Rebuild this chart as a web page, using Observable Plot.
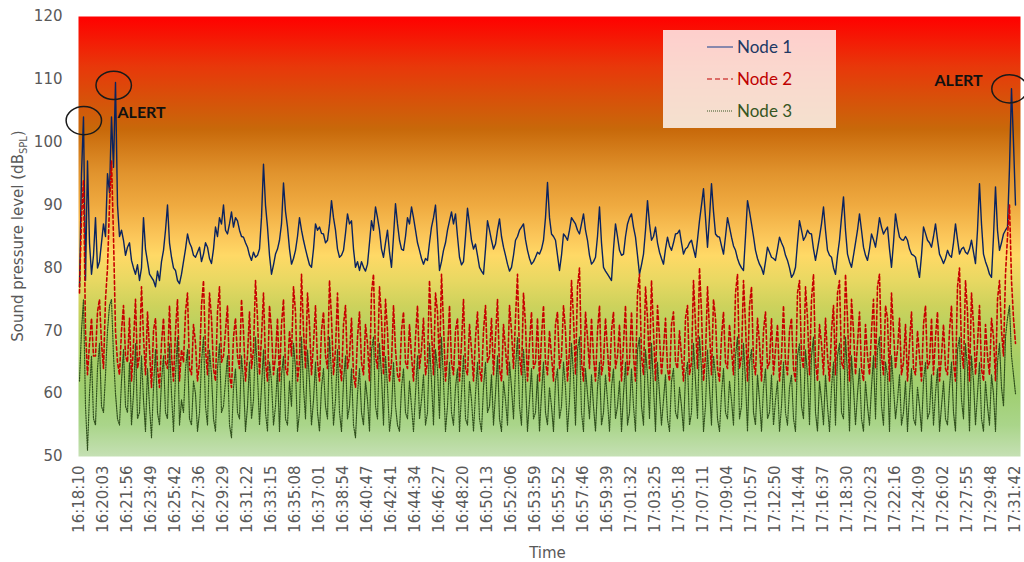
<!DOCTYPE html>
<html>
<head>
<meta charset="utf-8">
<script src="https://cdn.jsdelivr.net/npm/d3@7"></script>
<script src="https://cdn.jsdelivr.net/npm/@observablehq/plot@0.6"></script>
<style>
  html, body { margin: 0; padding: 0; background: #ffffff; }
  #chart { width: 1024px; height: 562px; position: relative; }
</style>
</head>
<body>
<div id="chart"></div>
<script>
// ---------- DATA ----------
const tickLabels = [
  "16:18:10","16:20:03","16:21:56","16:23:49","16:25:42","16:27:36","16:29:29","16:31:22",
  "16:33:15","16:35:08","16:37:01","16:38:54","16:40:47","16:42:41","16:44:34","16:46:27",
  "16:48:20","16:50:13","16:52:06","16:53:59","16:55:52","16:57:46","16:59:39","17:01:32",
  "17:03:25","17:05:18","17:07:11","17:09:04","17:10:57","17:12:50","17:14:44","17:16:37",
  "17:18:30","17:20:23","17:22:16","17:24:09","17:26:02","17:27:55","17:29:48","17:31:42"
];
const intervalsPerTick = 6;   // tick labels every 6 axis units

const seriesNames = ["Node 1", "Node 2", "Node 3"];

const node1 = [
  77,95,104,78,97,84,79,82,88,80,81,84,87,85,95,92,104,96,109.5,90,
  85,86,84.4,82,83.3,84,81.2,80,79,80.5,78,80,88,83,81,79,78.5,78,77,79.5,
  78,81,82.8,86,90,84,81.7,80,79.6,78,77.5,79,81,83,85.4,84,83.3,82,81.7,82.5,
  83.3,81,82.2,84,83.3,81.5,80.7,83,86.5,85,88,87,90,86,85.4,87,88.9,86.5,88,87.5,
  86,85,84.9,84,83.3,82,81.2,82.5,81.7,82,83,88,96.5,90,86.5,82,79,80.5,82.2,83,
  84.4,87,93.5,89,86.5,83,80.6,81.5,82.8,85,88,86,84.4,83,81.7,80.5,80.1,83,87,86,
  86.5,85.5,85.4,84,84.4,87,90.7,88,86,83,81.7,82,82.8,85.5,88.6,87,87.5,83,80.1,81,
  79.6,81,80.1,79.5,80.6,84,87.5,86,89.7,88,86,83,81.7,84,86,82.5,80.1,85,90.2,87,
  84.4,83,82.8,85,88,87,89.7,88,86,84,82.8,81.5,80.6,81.5,81.2,84,86.5,88,90,85,
  79.6,81,82.8,84,86,87.5,88.9,87,88.6,85,81.7,80.5,81,85,89.5,87,84.4,83,83.8,82,
  80.1,79.5,79,83,87.5,86,84.4,83,83.8,86,87.8,85,83.3,82,80.6,79.5,80.1,82,84.4,85,
  86,86.5,87,84.5,82.8,81.5,80.6,81,81.7,82.5,82.2,83,84.4,88,93.6,88,85.4,85,84.4,82,
  79.6,82,85.4,85,84.4,86,88,87.5,87,86,85.4,87,88.6,86,84.4,82,80.6,81,81.7,85,
  89.7,84,80.1,79.5,79,78.5,78,83,87,85,82.8,82,82.2,85,87,88,88.6,86.5,84.9,82,
  79,80.5,82.2,86,90.7,87,84.4,85,86.5,84,82.5,81.5,80.6,83,84.9,83.5,82.8,84,85.4,85.5,
  86,84,82.2,83,83.3,84,84.4,83,81.7,84.5,87.5,90,92.6,88,83.3,88,93.4,89,85.4,85,
  84.9,83.5,82.2,85,88,86.5,84.9,83.5,82.8,81.5,80.6,80,79.6,85,90.7,89,87,85,82.8,81.5,
  80.6,80,79,81,83.3,82.5,81.7,81.5,81.2,83,84.9,84,83.3,82,81.2,80,78.5,79,80.1,84,
  87.5,86,84.4,85,86,85.5,85.4,83,81.2,83,84.9,87,89.7,86,82.8,82,81.7,80,79,82,
  84.4,88,91.3,86,82.2,81,80.1,82,84,86,88.6,86,83.3,82,81.2,83,85.4,84.5,83.3,85.5,
  88,86.5,85.4,86,86.5,83,80.1,84,88.6,86.5,84.9,84.5,84.4,85,84.4,83,82.2,82,81.7,80,
  78.5,82,86.5,85.5,84.4,84,83.3,85,87,84.5,82.2,81.5,80.7,81.5,82.8,82,81.7,84,87,84.5,
  82.2,83,83.3,82.5,82.2,83,84.4,82.5,80.7,86,93.4,87,82.2,81,80.1,79,78.5,85,92.9,86,
  82.8,84,85.4,86,86.5,96,108.5,100,90
];

const node2 = [
  76,88,94,70,63,68,72,66,66,73,75,68,64,75,80,90,97,85,70,65,
  63,70,74,66,65,72,62,68,75,64,66,77,69,63,73,67,61,70,72,64,
  61,68,72,65,64,74,66,62,70,75,62,67,65,73,76,64,63,71,68,62,
  65,74,78,67,63,76,72,64,62,73,77,65,66,70,74,63,61,69,72,66,
  64,75,70,62,66,73,64,67,78,72,63,69,76,65,62,74,70,63,66,72,
  62,71,75,64,63,70,66,77,73,62,65,79,70,64,76,71,63,68,74,65,
  62,70,73,66,64,78,72,63,67,76,65,62,71,74,64,66,72,63,61,69,
  73,65,63,71,68,62,76,79,66,64,77,72,63,75,70,62,65,74,67,63,
  62,70,73,65,64,71,66,62,69,74,64,67,72,63,65,78,70,63,76,73,
  64,79,71,62,66,74,65,63,70,72,62,68,75,64,63,71,67,62,69,73,
  64,62,70,74,65,66,72,63,69,75,64,62,71,67,63,74,70,64,72,79,
  66,63,76,71,62,68,73,64,65,72,62,69,74,65,63,70,66,62,71,73,
  64,66,74,70,62,67,78,72,63,77,80,65,62,73,69,64,72,66,62,70,
  74,63,65,72,67,62,70,73,64,66,71,62,68,74,63,65,73,66,62,76,
  79,66,63,77,72,64,78,70,62,74,69,63,67,72,64,62,71,73,65,64,
  70,66,62,72,74,63,65,78,71,64,80,73,62,66,77,70,63,75,72,64,
  62,69,73,65,64,71,67,63,76,79,64,66,78,71,62,74,77,65,63,72,
  68,62,70,73,64,65,72,63,67,71,62,66,74,65,63,70,72,64,62,76,
  78,66,64,77,72,63,75,79,65,62,71,68,63,72,66,62,70,74,63,76,
  78,65,64,79,72,62,75,70,63,68,73,64,62,71,66,63,70,75,64,77,
  79,66,63,74,72,62,76,70,64,67,72,63,65,71,62,68,73,64,63,70,
  66,62,71,74,64,65,72,63,69,73,62,66,71,64,63,70,74,65,62,77,
  80,67,64,78,73,62,76,71,63,68,74,64,62,71,66,63,72,69,62,75,
  78,70,66,79,85,90,78,72,68
];

const node3 = [
  62,70,75,58,51,60,66,56,55,64,68,58,57,63,70,74,75,66,60,56,
  55,62,67,58,57,65,55,60,68,56,57,66,59,54,64,58,53,61,67,57,
  55,62,66,57,56,68,60,54,63,69,55,59,57,64,67,56,55,62,60,54,
  57,65,69,58,55,67,63,56,54,64,68,57,58,62,66,55,53,61,64,57,
  56,66,62,54,58,65,56,59,69,63,55,61,67,57,54,65,62,55,58,64,
  54,63,66,56,55,62,58,68,64,54,57,69,61,56,67,62,55,59,65,57,
  54,61,64,58,56,69,63,55,59,67,57,54,62,66,56,58,64,55,53,60,
  64,57,55,62,59,54,67,69,58,56,68,63,55,66,61,54,57,65,58,55,
  54,61,64,57,56,62,58,54,60,66,56,59,63,55,57,68,62,55,67,64,
  56,69,62,54,58,65,57,55,61,64,54,60,66,56,55,62,59,54,60,65,
  56,54,61,65,57,58,63,55,60,66,56,54,62,59,55,65,61,56,64,69,
  58,55,67,62,54,59,64,56,57,63,54,60,65,57,55,61,58,54,62,64,
  56,58,65,61,54,59,68,63,55,67,69,57,54,64,60,56,63,58,54,61,
  65,55,57,63,59,54,61,64,56,58,62,54,60,65,55,57,64,58,54,67,
  69,58,55,67,63,56,68,61,54,65,60,55,59,63,56,54,62,64,57,56,
  61,58,54,63,65,55,57,68,62,56,69,64,54,58,67,61,55,66,63,56,
  54,60,64,57,56,62,59,55,66,69,56,58,68,62,54,65,67,57,55,63,
  59,54,61,64,56,57,63,55,59,62,54,58,65,57,55,61,63,56,54,66,
  68,58,56,67,63,55,66,69,57,54,62,59,55,63,58,54,61,65,55,66,
  68,57,56,69,63,54,66,61,55,60,64,56,54,62,58,55,61,66,56,67,
  69,58,55,65,63,54,66,61,56,59,63,55,57,62,54,60,64,56,55,61,
  58,54,62,65,56,57,63,55,60,64,54,58,62,56,55,61,65,57,54,67,
  69,59,56,68,64,54,66,62,55,60,65,56,54,62,58,55,63,60,54,65,
  68,61,58,69,72,74,66,63,60
];

// alert rings (axis position, dB) and alert labels
const alertPos = [1.08, 8.55, 232.5];
const alertValue = [103.45, 109.05, 108.5];
const alertLabelPos = [9.5, 213.75];
const alertLabelValue = [104.7, 109.8];
const alertLabelText = ["ALERT", "ALERT"];

const yTicks = [50, 60, 70, 80, 90, 100, 110, 120];

// ---------- BUILD ----------
const nMax = (tickLabels.length - 1) * intervalsPerTick;
const toRows = (arr, name) => arr.map((v, j) => ({ x: j * nMax / (arr.length - 1), v, series: name }));
const rows1 = toRows(node1, seriesNames[0]);
const rows2 = toRows(node2, seriesNames[1]);
const rows3 = toRows(node3, seriesNames[2]);
const alerts = alertPos.map((d, k) => ({ x: d, v: alertValue[k] }));
const alertLabels = alertLabelPos.map((d, k) => ({ x: d, v: alertLabelValue[k], t: alertLabelText[k] }));
const xTicks = tickLabels.map((_, k) => k * intervalsPerTick);

const colors = { n1: "#0a2360", n2: "#c80000", n3: "#2f4f1c" };

const plot = Plot.plot({
  width: 1024,
  height: 562,
  marginLeft: 79,
  marginRight: 9,
  marginTop: 16,
  marginBottom: 106,
  style: { fontFamily: "DejaVu Sans", fontSize: "15px", color: "#595959", background: "transparent", overflow: "visible" },
  x: { domain: [0, nMax], label: null },
  y: { domain: [50, 120], label: null },
  marks: [
    Plot.frame({ fill: "url(#bgGrad)", stroke: null, insetLeft: -1, insetRight: -5 }),
    Plot.axisX({ ticks: xTicks, tickFormat: (d) => tickLabels[d / intervalsPerTick], tickRotate: -90, tickSize: 0, tickPadding: 9, fontSize: 15, fill: "#595959", label: null }),
    Plot.axisY({ ticks: yTicks, tickSize: 0, tickPadding: 17, fontSize: 15, fill: "#595959", label: null }),
    Plot.line(rows1, { x: "x", y: "v", stroke: colors.n1, strokeWidth: 1.4 }),
    Plot.line(rows2, { x: "x", y: "v", stroke: colors.n2, strokeWidth: 1.6, strokeDasharray: "3.5,2.5" }),
    Plot.line(rows3, { x: "x", y: "v", stroke: colors.n3, strokeWidth: 1.2, strokeDasharray: "1.2,1.3" }),
    Plot.dot(alerts, { x: "x", y: "v", r: 14.2, stroke: "#1a1a1a", strokeWidth: 1.5, fill: "none", className: "alert-ring" }),
    Plot.text(alertLabels, { x: "x", y: "v", text: "t", textAnchor: "start", fontWeight: "bold", fontSize: 16, fontFamily: "Lato", fill: "#111111" }),
    Plot.text(["Time"], { frameAnchor: "bottom", dy: 97, lineAnchor: "middle", fontSize: 15, fill: "#595959" })
  ]
});

document.getElementById("chart").appendChild(plot);

// gradient definition for the plot background
const svg = d3.select(plot);
const stops = [
  [0.000, "#ff0000"], [0.114, "#e8380a"], [0.257, "#c8690a"], [0.357, "#e1942e"],
  [0.429, "#efaa40"], [0.500, "#fbc65a"], [0.543, "#ffd966"], [0.600, "#e8d862"],
  [0.657, "#cdd25c"], [0.714, "#b6d160"], [0.786, "#a5ce68"], [0.857, "#a0cf72"],
  [0.929, "#aad58a"], [1.000, "#c5e0b4"]
];
const grad = svg.insert("defs", ":first-child").append("linearGradient")
  .attr("id", "bgGrad").attr("x1", 0).attr("y1", 0).attr("x2", 0).attr("y2", 1);
stops.forEach(([o, c]) => grad.append("stop").attr("offset", o).attr("stop-color", c));

// make alert rings elliptical
svg.selectAll(".alert-ring circle").each(function () {
  const c = d3.select(this);
  let cx = +c.attr("cx"), cy = +c.attr("cy");
  const tr = c.attr("transform");
  if (tr && /translate\(([^,]+),([^)]+)\)/.test(tr)) {
    const m = tr.match(/translate\(([^,]+),([^)]+)\)/);
    cx = +m[1]; cy = +m[2];
  }
  d3.select(this.parentNode).append("ellipse")
    .attr("cx", cx).attr("cy", cy).attr("rx", 17.7).attr("ry", 14.1)
    .attr("fill", "none").attr("stroke", "#1a1a1a").attr("stroke-width", 1.5);
  c.remove();
});

// y-axis title with subscript
const yt = svg.append("text")
  .attr("transform", "translate(23,236) rotate(-90)")
  .attr("text-anchor", "middle")
  .attr("font-family", "DejaVu Sans")
  .attr("font-size", 15)
  .attr("fill", "#595959");
yt.append("tspan").text("Sound pressure level (dB");
yt.append("tspan").attr("font-size", 10).attr("dy", 4).text("SPL");
yt.append("tspan").attr("dy", -4).text(")");

// legend
const lg = svg.append("g").attr("text-anchor", "start");
lg.append("rect").attr("x", 663).attr("y", 30).attr("width", 173).attr("height", 98)
  .attr("fill", "#ffffff").attr("fill-opacity", 0.8);
const legendItems = [
  { name: seriesNames[0], stroke: "#3a5697", dash: null, text: "#203864", w: 1.2 },
  { name: seriesNames[1], stroke: "#c00000", dash: "5,3", text: "#c00000", w: 1.2 },
  { name: seriesNames[2], stroke: "#375623", dash: "1,1", text: "#375623", w: 1 }
];
legendItems.forEach((it, k) => {
  const yy = 47 + k * 32;
  lg.append("line").attr("x1", 707).attr("x2", 733).attr("y1", yy).attr("y2", yy)
    .attr("stroke", it.stroke).attr("stroke-width", it.w).attr("stroke-dasharray", it.dash);
  lg.append("text").attr("x", 737).attr("y", yy).attr("dy", "0.35em")
    .attr("text-anchor", "start")
    .attr("font-family", "Lato").attr("font-size", 17).attr("fill", it.text).text(it.name);
});
</script>
</body>
</html>
